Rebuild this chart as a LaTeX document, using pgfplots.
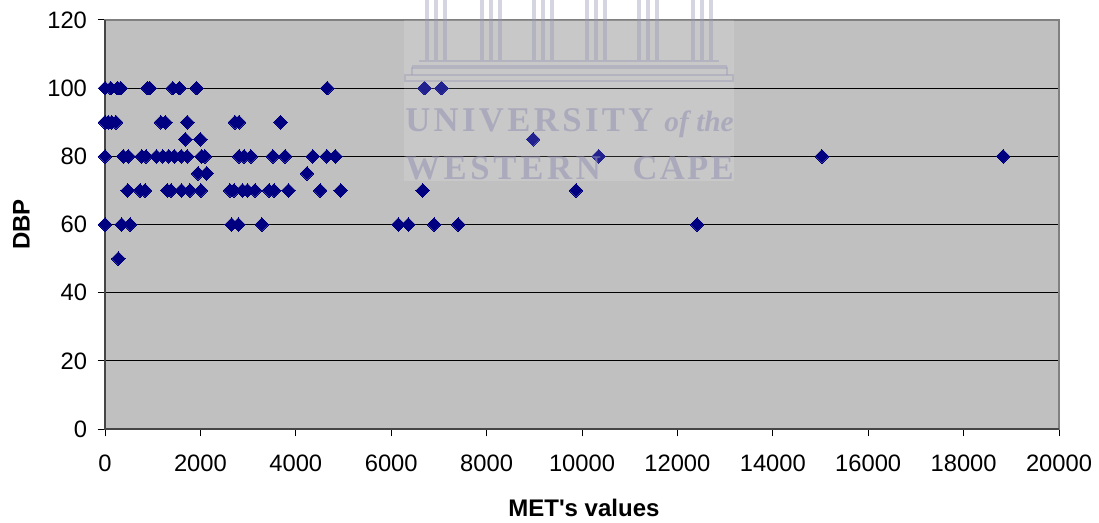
\documentclass[border=0pt]{standalone}
\usepackage{fontspec}
\setmainfont{Liberation Sans}
\newfontfamily\wmfont{Liberation Serif}
\usepackage{pgfplots}
\pgfplotsset{compat=1.18}
\definecolor{plotbg}{RGB}{192,192,192}
\definecolor{mk}{RGB}{0,0,128}
\definecolor{wmc}{RGB}{150,150,180}
\definecolor{axdark}{RGB}{70,70,70}
\definecolor{axlight}{RGB}{128,128,128}

\begin{document}
\begin{tikzpicture}[x=0.75pt,y=-0.75pt]
\path[use as bounding box] (0,0) rectangle (1099,523);
\begin{axis}[
    at={(78.75pt,-321.75pt)},
    anchor=south west,
    scale only axis,
    width=715.5pt,
    height=306.75pt,
    xmin=0, xmax=20000,
    ymin=0, ymax=120,
    xtick={0,2000,...,20000},
    ytick={0,20,...,120},
    scaled x ticks=false,
    /pgf/number format/assume math mode=true,
    /pgf/number format/set thousands separator={},
    tick label style={font=\fontsize{17.8}{20}\selectfont},
    xticklabel style={yshift=-10.5pt},
    yticklabel style={xshift=-4.5pt},
    xlabel={\textbf{MET\textquotesingle s values}},
    ylabel={\textbf{DBP}},
    label style={font=\fontsize{18}{20}\selectfont},
    xlabel style={at={(axis description cs:0.502,0)},anchor=north,yshift=-49pt},
    ylabel style={at={(axis description cs:0,0.5)},anchor=south,yshift=53pt},
    ymajorgrids,
    major grid style={black,line width=0.75pt},
    axis background/.style={fill=plotbg},
    axis line style={axlight,line width=1.4pt},
    tick style={black,line width=0.75pt},
    tick align=outside,
    tick pos=left,
    major tick length=5.5pt,
    clip=false,
]
\draw[axdark,line width=1.2pt] (rel axis cs:0,1) -- (rel axis cs:0,0) -- (rel axis cs:1,0);
\addplot[only marks,mark=square*,mark size=3.6pt,
    mark options={rotate=45,fill=mk,draw=mk,line width=0pt}] table {
x y
0 100
120 100
260 100
330 100
890 100
940 100
1420 100
1560 100
1920 100
4660 100
6700 100
7055 100
0 90
70 90
140 90
230 90
1170 90
1265 90
1725 90
2725 90
2810 90
3680 90
1685 85
2000 85
8975 85
0 80
385 80
490 80
770 80
860 80
1080 80
1210 80
1335 80
1455 80
1600 80
1725 80
2025 80
2095 80
2810 80
2915 80
3060 80
3520 80
3775 80
4355 80
4650 80
4830 80
10350 80
15030 80
18830 80
1950 75
2130 75
4235 75
475 70
735 70
840 70
1305 70
1385 70
1605 70
1780 70
2010 70
2620 70
2705 70
2880 70
2985 70
3145 70
3440 70
3545 70
3845 70
4510 70
4940 70
6660 70
9875 70
0 60
350 60
525 60
2655 60
2795 60
3290 60
6150 60
6360 60
6900 60
7405 60
12415 60
280 50
};
\end{axis}
% watermark over the plot
\fill[white,opacity=0.13] (404,20) rectangle (734,181);
\begin{scope}[wmc,opacity=0.4,line width=2.6pt]
\foreach \cx in {436,491,543,596,648,702}{
  \draw (\cx-9,0) -- (\cx-9,60);
  \draw (\cx,0) -- (\cx,60);
  \draw (\cx+9,0) -- (\cx+9,60);
}
\draw[line width=2pt] (419,61) -- (719,61);
\draw[line width=2.6pt] (412,67) -- (727,67);
\draw[line width=1.6pt] (412,67) -- (412,75) (727,67) -- (727,75);
\draw[line width=2pt] (405,75) rectangle (733,81);
\end{scope}
\begin{scope}[every node/.style={text=wmc,opacity=0.6,inner sep=0pt}]
\node[font=\wmfont\bfseries\fontsize{26}{28}\selectfont\addfontfeature{LetterSpace=9.8},anchor=base west]
  at (405,132) {UNIVERSITY};
\node[font=\wmfont\itshape\bfseries\fontsize{22}{25}\selectfont,anchor=base east]
  at (734,132) {of the};
\node[font=\wmfont\bfseries\fontsize{26}{28}\selectfont\addfontfeature{LetterSpace=10.7},anchor=base west]
  at (405,180) {WESTERN};
\node[font=\wmfont\bfseries\fontsize{26}{28}\selectfont\addfontfeature{LetterSpace=6.5},anchor=base east]
  at (734,180) {CAPE};
\end{scope}
\end{tikzpicture}
\end{document}
